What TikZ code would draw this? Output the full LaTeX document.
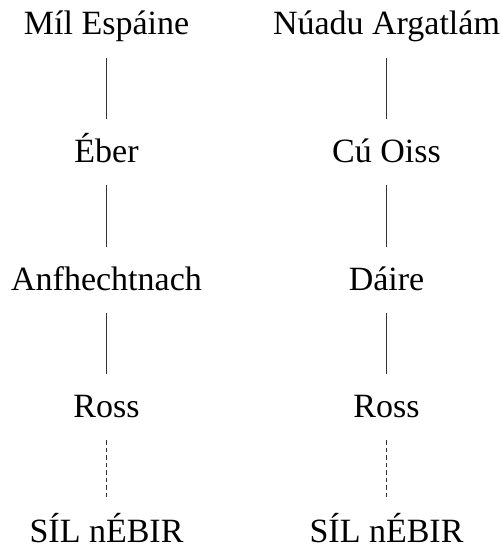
\documentclass[tikz,border=0pt]{standalone}
\usepackage{fontspec}
\setmainfont{Liberation Serif}
\begin{document}
\begin{tikzpicture}[x=1pt,y=1pt,
  person/.style={anchor=base,inner xsep=0pt,inner ysep=0pt,
    text height=43pt,text depth=23pt,
    font=\fontsize{34}{40}\selectfont},
  lastperson/.style={person,text depth=1pt},
  link/.style={draw=black!80,line width=1.3pt},
  dashlink/.style={link,dash pattern=on 4.5pt off 3pt}]
\useasboundingbox (0,0) rectangle (501,-548);
% left line
\node[person] (m)  at (106.5,-35)  {Míl Espáine};
\node[person] (e)  at (106.5,-162) {Éber};
\node[person] (a)  at (106.5,-290) {Anfhechtnach};
\node[person] (r1) at (106.5,-417) {Ross};
\node[lastperson] (s1) at (106.5,-542) {SÍL nÉBIR};
% right line
\node[person] (n)  at (386.5,-35)  {Núadu Argatlám};
\node[person] (c)  at (386.5,-162) {Cú Oiss};
\node[person] (d)  at (386.5,-290) {Dáire};
\node[person] (r2) at (386.5,-417) {Ross};
\node[lastperson] (s2) at (386.5,-542) {SÍL nÉBIR};
\draw[link] (m.south) -- (e.north);
\draw[link] (e.south) -- (a.north);
\draw[link] (a.south) -- (r1.north);
\draw[dashlink] (r1.south) -- (s1.north);
\draw[link] (n.south) -- (c.north);
\draw[link] (c.south) -- (d.north);
\draw[link] (d.south) -- (r2.north);
\draw[dashlink] (r2.south) -- (s2.north);
\end{tikzpicture}
\end{document}
